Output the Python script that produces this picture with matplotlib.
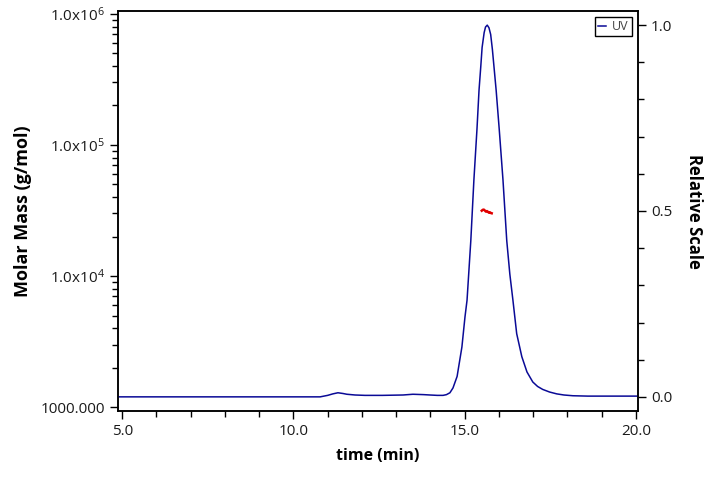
import matplotlib
matplotlib.use("Agg")
import matplotlib.pyplot as plt
from matplotlib.ticker import FixedLocator, MultipleLocator, LogLocator, NullFormatter

plt.rcParams['font.family'] = ['Open Sans', 'DejaVu Sans']
plt.rcParams['mathtext.default'] = 'regular'

# UV trace (relative scale)
uv_time = [4.85, 6.0, 8.0, 10.0, 10.78, 11.0, 11.15, 11.30, 11.45, 11.56, 11.8, 12.09,
           12.6, 13.2, 13.49, 13.8, 13.99, 14.2, 14.37, 14.47, 14.57, 14.66, 14.78,
           14.92, 15.01, 15.07, 15.18, 15.27, 15.36, 15.42, 15.47, 15.51, 15.57,
           15.61, 15.66, 15.71, 15.76, 15.81, 15.86, 15.92, 16.01, 16.12, 16.23, 16.32,
           16.41, 16.52, 16.67, 16.82, 16.99, 17.13, 17.28, 17.48, 17.69, 17.9,
           18.16, 18.6, 19.2, 20.1]
uv_value = [0.0, 0.0, 0.0, 0.0, 0.0, 0.004, 0.008, 0.011, 0.009, 0.007, 0.005, 0.004,
            0.004, 0.005, 0.007, 0.006, 0.005, 0.004, 0.004, 0.006, 0.011, 0.024, 0.055,
            0.134, 0.215, 0.26, 0.42, 0.583, 0.72, 0.825, 0.887, 0.94, 0.98,
            0.995, 1.0, 0.993, 0.975, 0.935, 0.885, 0.825, 0.72, 0.583, 0.42, 0.33,
            0.26, 0.17, 0.108, 0.067, 0.04, 0.028, 0.02, 0.013, 0.008, 0.005,
            0.003, 0.002, 0.002, 0.002]

# molar mass points across the peak
mm_time = [15.50, 15.53, 15.56, 15.59, 15.62, 15.65, 15.68, 15.71, 15.74, 15.77, 15.79]
mm_value = [31500, 32000, 32100, 31600, 31000, 31300, 30900, 30400, 30600, 30200, 30100]

ytick_vals = [1e3, 1e4, 1e5, 1e6]
ytick_labels = ['1000.000', r'$1.0x10^{4}$', r'$1.0x10^{5}$', r'$1.0x10^{6}$']

uv_color = '#0a0a96'
mm_color = '#e00000'

fig = plt.figure(figsize=(7.2, 4.79), dpi=100)
ax = fig.add_axes([0.164, 0.142, 0.722, 0.835])
ax2 = ax.twinx()

ax.plot(mm_time, mm_value, color=mm_color, lw=1.8)
ax.set_yscale('log')
ax.set_ylim(935, 1.05e6)
ax.set_xlim(4.88, 20.06)
ax.yaxis.set_major_locator(FixedLocator(ytick_vals))
ax.set_yticklabels(ytick_labels)
ax.yaxis.set_minor_locator(LogLocator(base=10, subs=range(2, 10)))
ax.yaxis.set_minor_formatter(NullFormatter())
ax.xaxis.set_major_locator(MultipleLocator(5))
ax.xaxis.set_minor_locator(MultipleLocator(1))
ax.xaxis.set_major_formatter(matplotlib.ticker.FormatStrFormatter('%.1f'))

ax2.plot(uv_time, uv_value, color=uv_color, lw=1.1, label='UV')
ax2.set_ylim(-0.038, 1.038)
ax2.yaxis.set_major_locator(MultipleLocator(0.5))
ax2.yaxis.set_minor_locator(MultipleLocator(0.1))
ax2.yaxis.set_major_formatter(matplotlib.ticker.FormatStrFormatter('%.1f'))

for a in (ax, ax2):
    a.tick_params(which='major', length=6, width=1, labelsize=11, color='black', labelcolor='#1a1a1a')
    a.tick_params(which='minor', length=4, width=1)
    for s in a.spines.values():
        s.set_linewidth(1.1)

ax.set_xlabel('time (min)', fontsize=11.5, fontweight='bold', labelpad=6)
ax.set_ylabel('Molar Mass (g/mol)', fontsize=13, fontweight='bold', labelpad=6)
ax2.set_ylabel('Relative Scale', fontsize=12, fontweight='bold', rotation=270, labelpad=22)

leg = ax2.legend(loc='upper right', fontsize=9, handlelength=0.6, handletextpad=0.5,
                 borderpad=0.25, borderaxespad=0, fancybox=False, framealpha=1,
                 bbox_to_anchor=(0.988, 0.985))
leg.get_frame().set_edgecolor('black')
leg.get_frame().set_linewidth(1)
for t in leg.get_texts():
    t.set_color('#444444')

fig.savefig('out.png', dpi=100)
